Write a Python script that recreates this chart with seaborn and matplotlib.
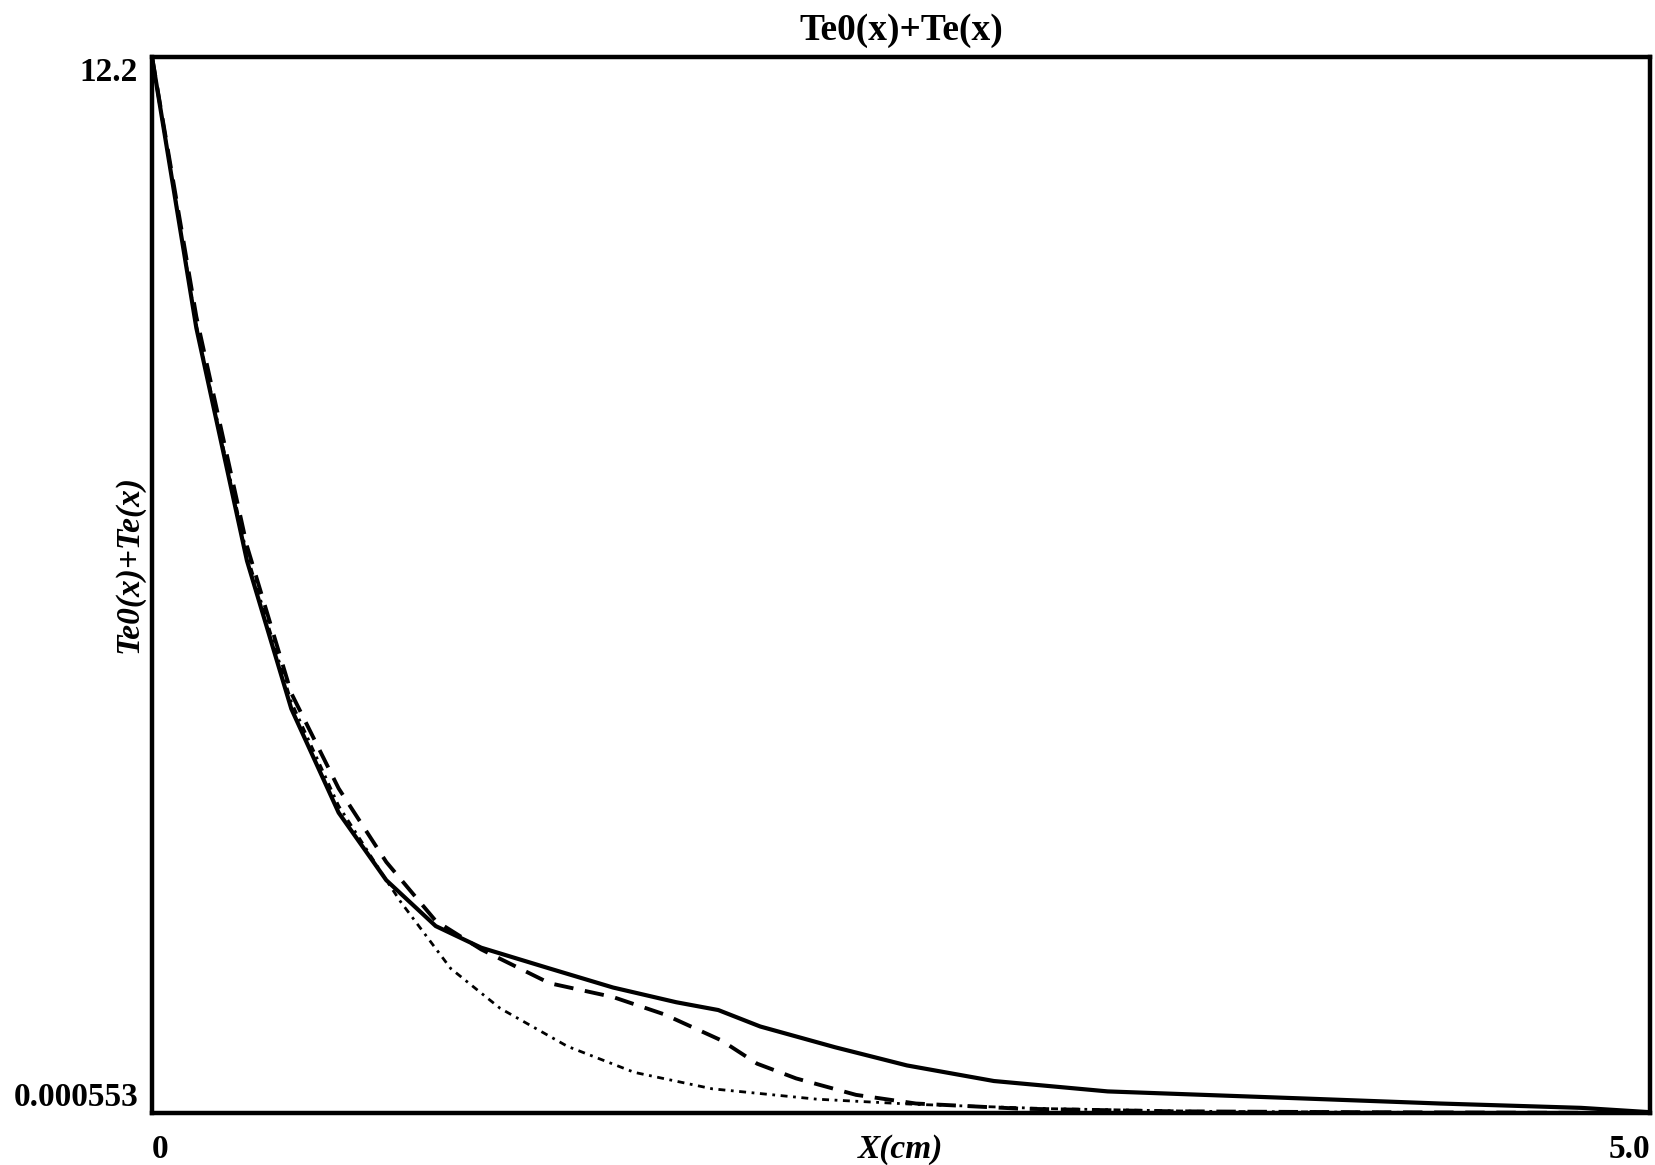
import pandas as pd
import seaborn as sns
import matplotlib.pyplot as plt

# values
x_solid = [0, 0.148, 0.317, 0.465, 0.623, 0.782, 0.947, 1.099, 1.327, 1.539, 1.75, 1.89,
           2.03, 2.28, 2.52, 2.81, 3.19, 3.83, 4.3, 4.77, 5.0]
y_solid = [12.2, 9.07, 6.38, 4.67, 3.47, 2.69, 2.16, 1.91, 1.67, 1.45, 1.28, 1.19,
           1.00, 0.76, 0.55, 0.37, 0.25, 0.17, 0.11, 0.06, 0.01]

x_dash = [0, 0.148, 0.317, 0.465, 0.623, 0.782, 0.947, 1.099, 1.327, 1.539, 1.71, 1.90,
          2.02, 2.15, 2.35, 2.55, 2.9, 3.4, 4.0, 5.0]
y_dash = [12.2, 9.2, 6.55, 4.85, 3.75, 2.90, 2.22, 1.89, 1.50, 1.34, 1.14, 0.84,
          0.57, 0.40, 0.21, 0.11, 0.05, 0.02, 0.01, 0.0]

x_dot = [0, 0.148, 0.317, 0.465, 0.623, 0.782, 0.83, 0.997, 1.162, 1.387, 1.61, 1.87,
         2.22, 2.55, 3.0, 3.5, 4.0, 5.0]
y_dot = [12.2, 9.1, 6.45, 4.75, 3.55, 2.69, 2.44, 1.67, 1.21, 0.77, 0.47, 0.28,
         0.16, 0.10, 0.05, 0.02, 0.01, 0.0]

x_ticks = [0, 5.0]
x_tick_labels = ['0', '5.0']
y_ticks = [0.000553, 12.2]
y_tick_labels = ['0.000553', '12.2']

sns.set_style('white')
plt.rcParams['font.family'] = ['Liberation Serif', 'DejaVu Serif']
plt.rcParams['text.color'] = 'black'
plt.rcParams['xtick.color'] = 'black'
plt.rcParams['ytick.color'] = 'black'
plt.rcParams['axes.labelcolor'] = 'black'

fig = plt.figure(figsize=(16.56, 11.65), dpi=100)
ax = fig.add_axes([152 / 1656, 1 - 1113 / 1165, 1498 / 1656, 1056 / 1165])

sns.lineplot(x=x_solid, y=y_solid, ax=ax, color='black', lw=3.0, sort=False)
sns.lineplot(x=x_dash, y=y_dash, ax=ax, color='black', lw=2.8,
             linestyle=(0, (5, 3)), sort=False)
sns.lineplot(x=x_dot, y=y_dot, ax=ax, color='black', lw=2.0,
             linestyle=(0, (2.5, 2, 1, 2)), sort=False)

ax.set_xlim(0, 5.0)
ax.set_ylim(0.000553, 12.2)

for side in ax.spines.values():
    side.set_linewidth(3.2)
    side.set_color('black')

ax.set_xticks(x_ticks)
ax.set_xticklabels(x_tick_labels, fontsize=24, fontweight='bold')
ax.set_yticks(y_ticks)
ax.set_yticklabels(y_tick_labels, fontsize=24, fontweight='bold')
ax.tick_params(axis='y', length=0, pad=10)
ax.tick_params(axis='x', length=0, pad=15)
xl = ax.get_xticklabels()
xl[0].set_ha('left')
xl[1].set_ha('right')
yl = ax.get_yticklabels()
yl[0].set_va('bottom')
yl[1].set_va('top')

ax.set_title('Te0(x)+Te(x)', fontsize=27, fontweight='bold', pad=12)
ax.set_xlabel('X(cm)', fontsize=24, fontweight='bold', style='italic')
ax.xaxis.set_label_coords(0.5, -0.02)
ax.set_ylabel('Te0(x)+Te(x)', fontsize=24, fontweight='bold', style='italic')
ax.yaxis.set_label_coords(-0.005, 0.52)

fig.savefig('out.png', dpi=100)
